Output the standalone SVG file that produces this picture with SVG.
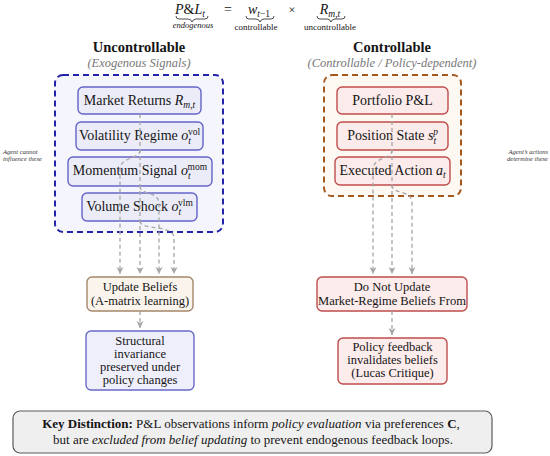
<svg xmlns="http://www.w3.org/2000/svg" width="550" height="456" viewBox="0 0 550 456" font-family="'Liberation Serif', 'DejaVu Serif', serif">
<defs>
<style>
text{font-family:"Liberation Serif","DejaVu Serif",serif;fill:#151515}
.node{font-size:14px;text-anchor:middle}
.small{font-size:12.5px;text-anchor:middle}
.title{font-size:14.5px;font-weight:bold;text-anchor:middle}
.sub{font-size:12.5px;font-style:italic;fill:#777;text-anchor:middle}
.note{font-size:6.5px;font-style:italic;fill:#333}
.it{font-style:italic}
.ubox{fill:#ececf9;stroke:#6464c8;stroke-width:1.4}
.cbox{fill:#fcebeb;stroke:#c04c4c;stroke-width:1.4}
.edge{fill:none;stroke:#a6a6a6;stroke-width:1.3;stroke-dasharray:4 3}
.brace{fill:none;stroke:#222;stroke-width:0.8}
</style>
<marker id="arr" markerWidth="8" markerHeight="8" refX="7" refY="4" orient="auto" markerUnits="userSpaceOnUse">
<path d="M0,0.5 L7,4 L0,7.5 L2,4 z" fill="#a6a6a6"/>
</marker>
</defs>

<!-- formula header -->
<g id="formula">
<text x="190" y="14" style="font-size:14px;text-anchor:middle"><tspan class="it">P</tspan>&amp;<tspan class="it">L</tspan><tspan class="it" font-size="9.5" dy="3">t</tspan></text>
<path class="brace" d="M176,16 q0,3 3,3 h9 q3,0 4,3 q1,-3 4,-3 h9 q3,0 3,-3"/>
<text x="193" y="28" style="font-size:8.5px;font-style:italic;text-anchor:middle">endogenous</text>
<text x="228" y="14" style="font-size:14px;text-anchor:middle">=</text>
<text x="259" y="14" style="font-size:14px;text-anchor:middle"><tspan class="it">w</tspan><tspan font-size="9.5" dy="3"><tspan class="it">t</tspan>−1</tspan></text>
<path class="brace" d="M246,16 q0,3 3,3 h7 q3,0 4,3 q1,-3 4,-3 h7 q3,0 3,-3"/>
<text x="256" y="30" style="font-size:9px;text-anchor:middle">controllable</text>
<text x="292" y="14" style="font-size:12px;text-anchor:middle">×</text>
<text x="330" y="14" style="font-size:14px;text-anchor:middle"><tspan class="it">R</tspan><tspan class="it" font-size="9.5" dy="3">m,t</tspan></text>
<path class="brace" d="M317,16 q0,3 3,3 h7 q3,0 4,3 q1,-3 4,-3 h7 q3,0 3,-3"/>
<text x="330" y="30" style="font-size:9px;text-anchor:middle">uncontrollable</text>
</g>

<!-- headings -->
<text class="title" x="139" y="52">Uncontrollable</text>
<text class="sub" x="139" y="67">(Exogenous Signals)</text>
<text class="title" x="392" y="52">Controllable</text>
<text class="sub" x="392" y="67">(Controllable / Policy-dependent)</text>

<!-- side notes -->
<text class="note" x="3" y="154">Agent cannot</text>
<text class="note" x="3" y="161">influence these</text>
<text class="note" x="548" y="154" text-anchor="end">Agent’s actions</text>
<text class="note" x="548" y="161" text-anchor="end">determine these</text>

<!-- group containers -->
<g id="uncontrollable-group">
<rect x="55" y="75" width="168" height="157" rx="8" fill="#f5f5fd" stroke="#2424a8" stroke-width="2" stroke-dasharray="6 4"/>
</g>
<g id="controllable-group">
<rect x="324" y="75" width="137" height="121" rx="8" fill="#fdf8f2" stroke="#a4581e" stroke-width="2" stroke-dasharray="6 4"/>
</g>

<!-- left nodes -->
<g id="market-returns">
<rect class="ubox" x="78" y="87" width="123" height="27" rx="5"/>
<text class="node" x="139.5" y="105">Market Returns <tspan class="it">R</tspan><tspan class="it" font-size="9.5" dy="3">m,t</tspan></text>
</g>
<g id="volatility-regime">
<rect class="ubox" x="76" y="122" width="127" height="28" rx="5"/>
<text class="node" x="139.5" y="140">Volatility Regime <tspan class="it">o</tspan><tspan class="it" font-size="9.5" dy="3.5">t</tspan><tspan font-size="9.5" dx="-3" dy="-9">vol</tspan></text>
</g>
<g id="momentum-signal">
<rect class="ubox" x="68" y="157" width="144" height="29" rx="5"/>
<text class="node" x="140" y="175">Momentum Signal <tspan class="it">o</tspan><tspan class="it" font-size="9.5" dy="3.5">t</tspan><tspan font-size="9.5" dx="-3" dy="-9">mom</tspan></text>
</g>
<g id="volume-shock">
<rect class="ubox" x="82" y="193" width="115" height="28" rx="5"/>
<text class="node" x="139.5" y="211">Volume Shock <tspan class="it">o</tspan><tspan class="it" font-size="9.5" dy="3.5">t</tspan><tspan font-size="9.5" dx="-3" dy="-9">vlm</tspan></text>
</g>

<!-- right nodes -->
<g id="portfolio-pnl">
<rect class="cbox" x="337" y="87" width="111" height="27" rx="5"/>
<text class="node" x="392.5" y="105">Portfolio P&amp;L</text>
</g>
<g id="position-state">
<rect class="cbox" x="337" y="122" width="111" height="28" rx="5"/>
<text class="node" x="392.5" y="140">Position State <tspan class="it">s</tspan><tspan class="it" font-size="9.5" dy="3.5">t</tspan><tspan class="it" font-size="9.5" dx="-3" dy="-9">p</tspan></text>
</g>
<g id="executed-action">
<rect class="cbox" x="335" y="157" width="115" height="28" rx="5"/>
<text class="node" x="392.5" y="175">Executed Action <tspan class="it">a</tspan><tspan class="it" font-size="9.5" dy="3">t</tspan></text>
</g>

<!-- lower nodes -->
<g id="update-beliefs">
<rect x="87" y="277" width="106" height="34" rx="5" fill="#faf4ec" stroke="#a4876a" stroke-width="1.4"/>
<text class="small" x="140" y="291">Update Beliefs</text>
<text class="small" x="140" y="305">(A-matrix learning)</text>
</g>
<g id="structural-invariance">
<rect x="86" y="331" width="108" height="59" rx="5" fill="#efeffc" stroke="#6a6ac8" stroke-width="1.4"/>
<text class="small" x="140" y="345">Structural</text>
<text class="small" x="140" y="358">invariance</text>
<text class="small" x="140" y="371">preserved under</text>
<text class="small" x="140" y="384">policy changes</text>
</g>
<g id="do-not-update">
<rect x="317" y="277" width="150" height="34" rx="5" fill="#fcecec" stroke="#c04c4c" stroke-width="1.4"/>
<text class="small" x="392" y="291">Do Not Update</text>
<text class="small" x="392" y="305">Market-Regime Beliefs From</text>
</g>
<g id="policy-feedback">
<rect x="338" y="338" width="109" height="46" rx="5" fill="#fcecec" stroke="#c04c4c" stroke-width="1.4"/>
<text class="small" x="392.5" y="351">Policy feedback</text>
<text class="small" x="392.5" y="364">invalidates beliefs</text>
<text class="small" x="392.5" y="377">(Lucas Critique)</text>
</g>

<!-- connectors -->
<g id="connectors">
<path class="edge" d="M140,114 L140,274" marker-end="url(#arr)"/>
<path class="edge" d="M140,150 C140,160 120,156 120,170 L120,274" marker-end="url(#arr)"/>
<path class="edge" d="M140,186 C140,196 159,190 159,204 L159,274" marker-end="url(#arr)"/>
<path class="edge" d="M140,221 C140,231 174,224 174,238 L174,274" marker-end="url(#arr)"/>
<path class="edge" d="M392,114 L392,274" marker-end="url(#arr)"/>
<path class="edge" d="M392,150 C392,160 373,156 373,170 L373,274" marker-end="url(#arr)"/>
<path class="edge" d="M392,185 C392,195 412,189 412,203 L412,274" marker-end="url(#arr)"/>
<path class="edge" d="M140,311 L140,328" marker-end="url(#arr)"/>
<path class="edge" d="M392,311 L392,335" marker-end="url(#arr)"/>
</g>

<!-- key distinction -->
<g id="key-distinction">
<rect x="13" y="411" width="479" height="42" rx="7" fill="#efefef" stroke="#5a5a5a" stroke-width="1.2"/>
<text x="251" y="428" style="font-size:13px;text-anchor:middle"><tspan font-weight="bold">Key Distinction:</tspan> P&amp;L observations inform <tspan class="it">policy evaluation</tspan> via preferences <tspan font-weight="bold">C</tspan>,</text>
<text x="253" y="444" style="font-size:13px;text-anchor:middle">but are <tspan class="it">excluded from belief updating</tspan> to prevent endogenous feedback loops.</text>
</g>
</svg>
